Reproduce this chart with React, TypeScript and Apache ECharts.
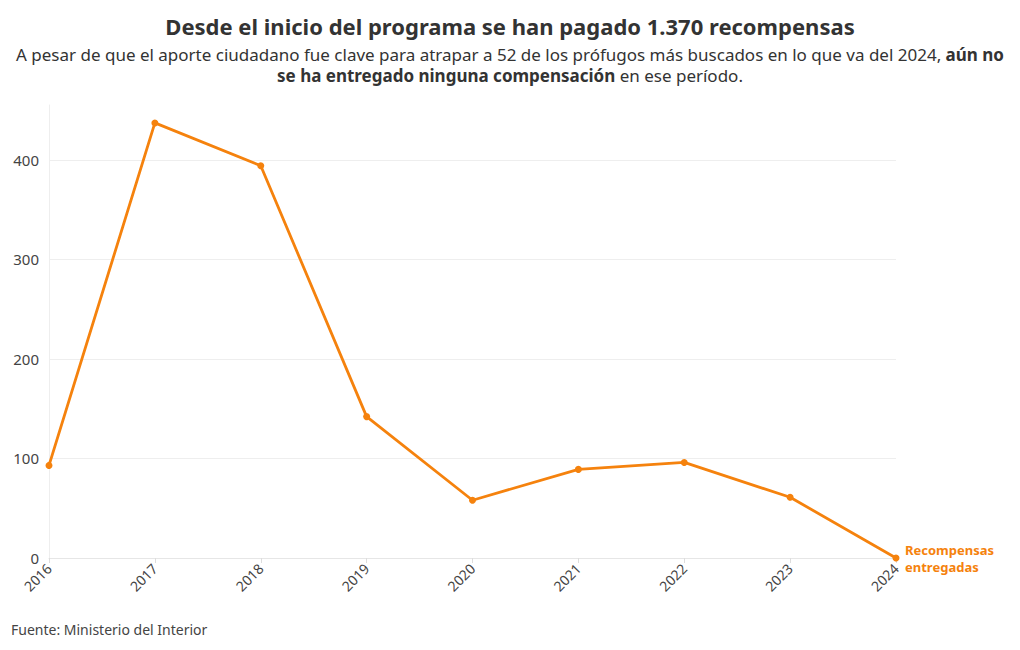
import React, { useEffect, useRef } from "react";
import * as echarts from "echarts";

const years = ["2016", "2017", "2018", "2019", "2020", "2021", "2022", "2023", "2024"];
const rewards = [93, 437, 394, 142, 58, 89, 96, 61, 0];
const yTicks = [0, 100, 200, 300, 400];

const FONT = "'Noto Sans', sans-serif";
const ORANGE = "#f5820d";

export default function App() {
  const ref = useRef<HTMLDivElement>(null);
  useEffect(() => {
    document.body.style.margin = "0";
    const chart = echarts.init(ref.current!, null, { renderer: "svg" });
    chart.setOption({
      animation: false,
      backgroundColor: "#ffffff",
      textStyle: { fontFamily: FONT },
      title: {
        left: "center",
        top: 10,
        text: "Desde el inicio del programa se han pagado 1.370 recompensas",
        textStyle: { fontFamily: FONT, fontSize: 22, fontWeight: "bold", color: "#333333" },
        subtext:
          "A pesar de que el aporte ciudadano fue clave para atrapar a 52 de los prófugos más buscados en lo que va del 2024, {b|aún no}\n{b|se ha entregado ninguna compensación} en ese período.",
        itemGap: 7,
        subtextStyle: {
          fontFamily: FONT,
          fontSize: 17,
          color: "#333333",
          lineHeight: 21,
          align: "center",
          rich: {
            b: { fontFamily: FONT, fontSize: 17, fontWeight: "bold", color: "#333333", lineHeight: 21 },
          },
        },
      },
      graphic: [
        {
          type: "text",
          left: 11,
          top: 622,
          style: { text: "Fuente: Ministerio del Interior", fontFamily: FONT, fontSize: 14, fill: "#444444" },
        },
      ],
      grid: { left: 49, right: 124, top: 105, bottom: 92 },
      xAxis: {
        type: "category",
        data: years,
        boundaryGap: false,
        axisLine: { show: true, lineStyle: { color: "#e6e6e6" } },
        axisTick: { show: true, length: 5, lineStyle: { color: "#dddddd" } },
        axisLabel: { rotate: 45, color: "#444444", fontSize: 14, fontFamily: FONT, margin: 8 },
        splitLine: { show: false },
      },
      yAxis: {
        type: "value",
        min: 0,
        max: 455,
        interval: 100,
        axisLine: { show: true, lineStyle: { color: "#eeeeee" } },
        axisTick: { show: false },
        axisLabel: {
          color: "#444444",
          fontSize: 15,
          fontFamily: FONT,
          margin: 10,
          showMaxLabel: false,
          formatter: (v: number) => (yTicks.includes(v) ? String(v) : ""),
        },
        splitLine: {
          show: true,
          lineStyle: { color: ["#eeeeee", "#eeeeee", "#eeeeee", "#eeeeee", "#eeeeee", "rgba(0,0,0,0)"] },
        },
      },
      series: [
        {
          type: "line",
          name: "Recompensas entregadas",
          data: rewards,
          symbol: "circle",
          symbolSize: 7,
          lineStyle: { color: ORANGE, width: 2.8 },
          itemStyle: { color: ORANGE },
          endLabel: {
            show: true,
            formatter: "Recompensas\nentregadas",
            color: ORANGE,
            fontWeight: "bold",
            fontSize: 13,
            lineHeight: 17,
            fontFamily: FONT,
            distance: 9,
          },
        },
      ],
    });
    return () => chart.dispose();
  }, []);
  return <div ref={ref} style={{ position: "absolute", left: 0, top: 0, width: 1020, height: 650 }} />;
}
